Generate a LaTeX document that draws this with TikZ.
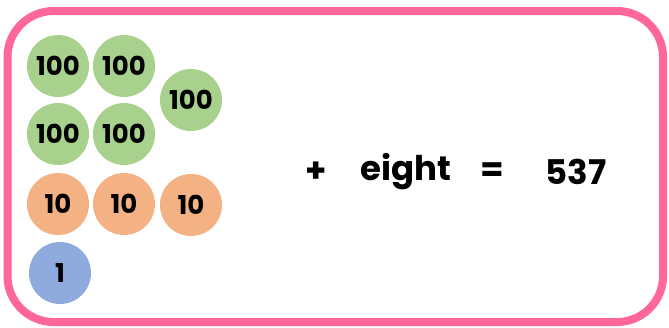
\documentclass[tikz,border=0pt]{standalone}
\usepackage{fontspec}
\setmainfont{Poppins}
\usepackage{xcolor}
\usetikzlibrary{positioning}

\definecolor{framepink}{HTML}{FF6699}
\definecolor{hundredgreen}{HTML}{A9D18E}
\definecolor{tenorange}{HTML}{F4B183}
\definecolor{oneblue}{HTML}{8FAADC}

\begin{document}
\begin{tikzpicture}[x=1pt, y=-1pt,
  coin/.style={circle, minimum size=62pt, inner sep=0pt, font=\fontsize{26}{26}\selectfont\bfseries},
  hundred/.style={coin, fill=hundredgreen},
  ten/.style={coin, fill=tenorange},
  unit/.style={coin, fill=oneblue},
  sumtext/.style={font=\fontsize{34}{34}\selectfont\bfseries, inner sep=0pt},
]
\useasboundingbox (0,0) rectangle (669,327);

% frame
\draw[framepink, line width=8pt, rounded corners=46pt] (7.5,11) rectangle (663,322);

% hundreds
\node[hundred] (h1) at (58,66) {100};
\node[hundred] (h2) at (124,66) {100};
\node[hundred] (h3) at (191,100) {100};
\node[hundred] (h4) at (58,134) {100};
\node[hundred] (h5) at (124,134) {100};

% tens
\node[ten] (t1) at (58,204) {10};
\node[ten] (t2) at (124,204) {10};
\node[ten] (t3) at (191,205) {10};

% ones
\node[unit] (o1) at (60,273) {1};

% sum
\node[sumtext] (plus) at (316,172) {+};
\node[sumtext] (word) at (406,172) {eight};
\node[sumtext] (equals) at (492,172) {=};
\node[sumtext] (total) at (576,172) {537};

\end{tikzpicture}
\end{document}
